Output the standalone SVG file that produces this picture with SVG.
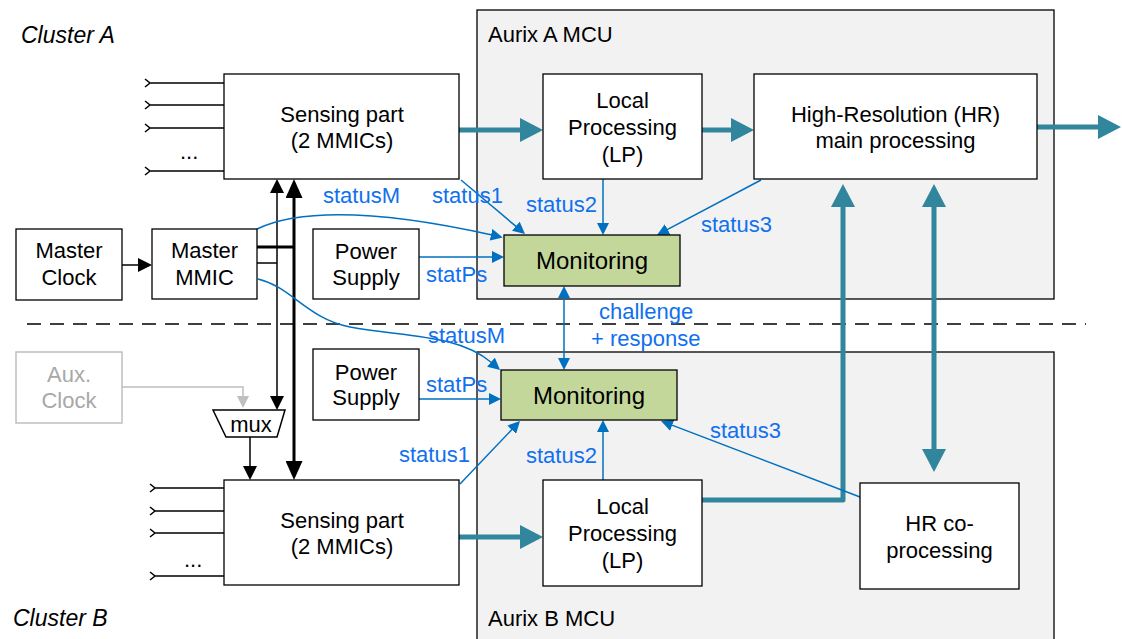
<svg xmlns="http://www.w3.org/2000/svg" width="1122" height="639" viewBox="0 0 1122 639">
  <style>
    text { font-family: "Liberation Sans", Arial, sans-serif; font-size: 22px; fill: #000; }
    .c { text-anchor: middle; }
    .it { font-style: italic; font-size: 23px; }
    .lbl { fill: #1070ee; }
    .mon { font-size: 24px; }
    .gtxt { fill: #a8a8a8; }
    .box { fill: #fff; stroke: #000; stroke-width: 1.3; }
    .mcu { fill: #f2f2f2; stroke: #000; stroke-width: 1.3; }
    .monbox { fill: #c4d79b; stroke: #000; stroke-width: 1.3; }
    .gbox { fill: #fff; stroke: #bfbfbf; stroke-width: 1.5; }
    .blue { fill: none; stroke: #0070c0; stroke-width: 1.5; }
    .teal { fill: none; stroke: #31859c; stroke-width: 5; }
    .thin { fill: none; stroke: #000; stroke-width: 1.5; }
    .thick { fill: none; stroke: #000; stroke-width: 3; }
    .gray { fill: none; stroke: #bfbfbf; stroke-width: 1.5; }
    .inp { fill: none; stroke: #000; stroke-width: 1.5; }
  </style>
  <defs>
    <marker id="ab" markerUnits="userSpaceOnUse" markerWidth="13" markerHeight="12" refX="1" refY="6" orient="auto-start-reverse">
      <path d="M0,0 L12,6 L0,12 z" fill="#0070c0"/>
    </marker>
    <marker id="at" markerUnits="userSpaceOnUse" markerWidth="24" markerHeight="24" refX="1" refY="12" orient="auto-start-reverse">
      <path d="M0,0 L23,12 L0,24 z" fill="#31859c"/>
    </marker>
    <marker id="ak" markerUnits="userSpaceOnUse" markerWidth="15" markerHeight="14" refX="1" refY="7" orient="auto-start-reverse">
      <path d="M0,0 L14,7 L0,14 z" fill="#000"/>
    </marker>
    <marker id="aK" markerUnits="userSpaceOnUse" markerWidth="20" markerHeight="17" refX="1" refY="8.5" orient="auto-start-reverse">
      <path d="M0,0 L19,8.5 L0,17 z" fill="#000"/>
    </marker>
    <marker id="ag" markerUnits="userSpaceOnUse" markerWidth="13" markerHeight="12" refX="1" refY="6" orient="auto">
      <path d="M0,0 L12,6 L0,12 z" fill="#bfbfbf"/>
    </marker>
  </defs>

  <rect width="1122" height="639" fill="#fff"/>

  <!-- cluster captions and partition line -->
  <text class="it" x="21" y="43">Cluster A</text>
  <text class="it" x="13" y="626">Cluster B</text>
  <line x1="27" y1="324" x2="1086" y2="324" stroke="#000" stroke-width="1.5" stroke-dasharray="14 9"/>

  <!-- MCU containers -->
  <g id="aurixA">
    <rect class="mcu" x="477" y="10" width="577" height="289"/>
    <text x="488" y="42">Aurix A MCU</text>
  </g>
  <g id="aurixB">
    <rect class="mcu" x="477" y="352" width="577" height="300"/>
    <text x="488" y="626">Aurix B MCU</text>
  </g>

  <!-- connectors -->
  <g id="connectors">
    <!-- radar inputs, cluster A -->
    <path class="inp" d="M145,79 L150,83 L145,87 M150,83 H224 M145,101 L150,105 L145,109 M150,105 H224 M145,124 L150,128 L145,132 M150,128 H224 M145,167 L150,171 L145,175 M150,171 H224"/>
    <text x="180" y="159">...</text>
    <!-- radar inputs, cluster B -->
    <path class="inp" d="M150,484 L155,488 L150,492 M155,488 H224 M150,507 L155,511 L150,515 M155,511 H224 M150,529 L155,533 L150,537 M155,533 H224 M150,572 L155,576 L150,580 M155,576 H224"/>
    <text x="184" y="567">...</text>

    <!-- clock distribution -->
    <line class="thin" x1="122" y1="265" x2="139" y2="265" marker-end="url(#ak)"/>
    <line class="thick" x1="257" y1="247" x2="294" y2="247"/>
    <line class="thin" x1="257" y1="263" x2="277" y2="263"/>
    <line class="thin" x1="277" y1="192" x2="277" y2="397" marker-start="url(#ak)" marker-end="url(#ak)"/>
    <line class="thick" x1="294" y1="197" x2="294" y2="462" marker-start="url(#aK)" marker-end="url(#aK)"/>
    <line class="thin" x1="250" y1="437" x2="250" y2="467" marker-end="url(#ak)"/>
    <path class="gray" d="M122,387 H243 V397" marker-end="url(#ag)"/>

    <!-- data path -->
    <line class="teal" x1="459" y1="130" x2="521" y2="130" marker-end="url(#at)"/>
    <line class="teal" x1="702" y1="130" x2="732" y2="130" marker-end="url(#at)"/>
    <line class="teal" x1="1037" y1="127" x2="1099" y2="127" marker-end="url(#at)"/>
    <line class="teal" x1="459" y1="537" x2="521" y2="537" marker-end="url(#at)"/>
    <path class="teal" d="M702,500 H843 V206" stroke-linejoin="round" marker-end="url(#at)"/>
    <line class="teal" x1="934" y1="206" x2="934" y2="450" marker-start="url(#at)" marker-end="url(#at)"/>

    <!-- status signals, cluster A -->
    <path class="blue" d="M257,229 C292,212 362,206 492,235" marker-end="url(#ab)"/>
    <line class="blue" x1="461" y1="180" x2="516.6" y2="226.9" marker-end="url(#ab)"/>
    <line class="blue" x1="603" y1="179" x2="603" y2="224" marker-end="url(#ab)"/>
    <line class="blue" x1="761" y1="180" x2="666.7" y2="229.9" marker-end="url(#ab)"/>
    <line class="blue" x1="419" y1="257" x2="493" y2="257" marker-end="url(#ab)"/>
    <!-- challenge / response between the monitors -->
    <line class="blue" x1="564" y1="297" x2="564" y2="359" marker-start="url(#ab)" marker-end="url(#ab)"/>
    <!-- status signals, cluster B -->
    <path class="blue" d="M258,279 C292,287 306,318 350,327 C405,337 458,334 491.7,362.8" marker-end="url(#ab)"/>
    <line class="blue" x1="419" y1="399" x2="490" y2="399" marker-end="url(#ab)"/>
    <line class="blue" x1="460" y1="484" x2="512.4" y2="429" marker-end="url(#ab)"/>
    <line class="blue" x1="603" y1="480" x2="603" y2="431" marker-end="url(#ab)"/>
    <line class="blue" x1="860" y1="497" x2="671.3" y2="424.9" marker-end="url(#ab)"/>

    <!-- signal labels -->
    <text class="lbl" x="323" y="203">statusM</text>
    <text class="lbl" x="432" y="203">status1</text>
    <text class="lbl" x="526" y="212">status2</text>
    <text class="lbl" x="701" y="232">status3</text>
    <text class="lbl" x="426" y="282">statPs</text>
    <text class="lbl" x="599" y="319">challenge</text>
    <text class="lbl" x="591" y="346">+ response</text>
    <text class="lbl" x="428" y="343">statusM</text>
    <text class="lbl" x="426" y="392">statPs</text>
    <text class="lbl" x="399" y="462">status1</text>
    <text class="lbl" x="526" y="463">status2</text>
    <text class="lbl" x="710" y="438">status3</text>
  </g>

  <!-- cluster A blocks -->
  <g id="sensingA">
    <rect class="box" x="224" y="74" width="235" height="105"/>
    <text class="c" x="342" y="122">Sensing part</text>
    <text class="c" x="342" y="148">(2 MMICs)</text>
  </g>
  <g id="masterClock">
    <rect class="box" x="16" y="229" width="106" height="71"/>
    <text class="c" x="69" y="258">Master</text>
    <text class="c" x="69" y="285">Clock</text>
  </g>
  <g id="masterMMIC">
    <rect class="box" x="152" y="229" width="105" height="70"/>
    <text class="c" x="204.5" y="258">Master</text>
    <text class="c" x="204.5" y="285">MMIC</text>
  </g>
  <g id="powerA">
    <rect class="box" x="313" y="229" width="106" height="70"/>
    <text class="c" x="366" y="259">Power</text>
    <text class="c" x="366" y="285">Supply</text>
  </g>
  <g id="lpA">
    <rect class="box" x="543" y="74" width="159" height="105"/>
    <text class="c" x="622.5" y="108">Local</text>
    <text class="c" x="622.5" y="135">Processing</text>
    <text class="c" x="622.5" y="162">(LP)</text>
  </g>
  <g id="hrMain">
    <rect class="box" x="754" y="74" width="283" height="105"/>
    <text class="c" x="895.5" y="122">High-Resolution (HR)</text>
    <text class="c" x="895.5" y="148">main processing</text>
  </g>
  <g id="monitorA">
    <rect class="monbox" x="504" y="235" width="176" height="51"/>
    <text class="c mon" x="592" y="269">Monitoring</text>
  </g>

  <!-- cluster B blocks -->
  <g id="auxClock">
    <rect class="gbox" x="16" y="352" width="106" height="71"/>
    <text class="c gtxt" x="69" y="382">Aux.</text>
    <text class="c gtxt" x="69" y="408">Clock</text>
  </g>
  <g id="mux">
    <polygon points="213,410 285,410 277,437 226,437" fill="#fff" stroke="#000" stroke-width="1.5"/>
    <text class="c" x="251" y="432">mux</text>
  </g>
  <g id="powerB">
    <rect class="box" x="313" y="349" width="106" height="71"/>
    <text class="c" x="366" y="380">Power</text>
    <text class="c" x="366" y="405">Supply</text>
  </g>
  <g id="sensingB">
    <rect class="box" x="224" y="480" width="235" height="105"/>
    <text class="c" x="342" y="528">Sensing part</text>
    <text class="c" x="342" y="554">(2 MMICs)</text>
  </g>
  <g id="monitorB">
    <rect class="monbox" x="501" y="370" width="176" height="50"/>
    <text class="c mon" x="589" y="404">Monitoring</text>
  </g>
  <g id="lpB">
    <rect class="box" x="543" y="480" width="159" height="106"/>
    <text class="c" x="622.5" y="514">Local</text>
    <text class="c" x="622.5" y="541">Processing</text>
    <text class="c" x="622.5" y="568">(LP)</text>
  </g>
  <g id="hrCo">
    <rect class="box" x="860" y="483" width="159" height="106"/>
    <text class="c" x="939.5" y="531">HR co-</text>
    <text class="c" x="939.5" y="558">processing</text>
  </g>
</svg>
